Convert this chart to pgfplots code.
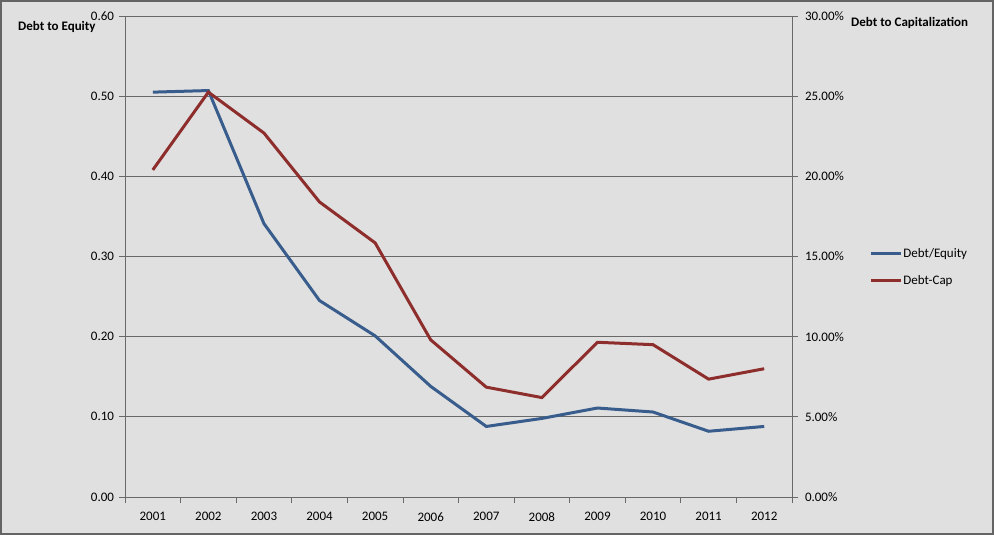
\documentclass[border=0pt]{standalone}
\usepackage{pgfplots}
\pgfplotsset{compat=1.18}
\usepackage{fontspec}
\setmainfont{Carlito}
\definecolor{bg}{RGB}{224,224,224}
\definecolor{framecol}{RGB}{100,100,100}
\definecolor{gridcol}{RGB}{105,105,105}
\definecolor{deblue}{RGB}{56,93,140}
\definecolor{dcred}{RGB}{142,46,44}
\pgfplotstableread{
x de
0 0.505
1 0.507
2 0.341
3 0.245
4 0.201
5 0.138
6 0.088
7 0.098
8 0.111
9 0.106
10 0.082
11 0.088
}\detable
\pgfplotstableread{
x dc
0 20.4
1 25.25
2 22.7
3 18.4
4 15.85
5 9.8
6 6.85
7 6.2
8 9.65
9 9.5
10 7.35
11 8.0
}\dctable
\begin{document}
\begin{tikzpicture}[x=1pt,y=1pt]
\path[use as bounding box] (0,0) rectangle (994,535);
\fill[bg] (0,0) rectangle (994,535);
\draw[framecol, line width=2pt] (1,1) rectangle (993,534);
\begin{axis}[
  at={(125pt,38pt)}, anchor=south west,
  width=667pt, height=481pt, scale only axis,
  xmin=-0.5, xmax=11.5, ymin=0, ymax=0.6,
  axis line style={gridcol, line width=0.8pt},
  xtick={0,...,11},
  xticklabels={2001,2002,2003,2004,2005,2006,2007,2008,2009,2010,2011,2012},
  minor xtick={-0.5,0.5,1.5,2.5,3.5,4.5,5.5,6.5,7.5,8.5,9.5,10.5,11.5},
  xtick pos=bottom, ytick pos=left,
  tick align=outside,
  major tick length=6pt, minor tick length=6pt,
  x tick style={draw=none},
  minor x tick style={draw=gridcol, line width=0.8pt},
  y tick style={gridcol, line width=0.8pt},
  ytick={0,0.1,0.2,0.3,0.4,0.5,0.6},
  ymajorgrids=true,
  major grid style={gridcol, line width=0.8pt},
  yticklabel style={xshift=-1.5pt, /pgf/number format/.cd, fixed, fixed zerofill, precision=2, assume math mode=true},
  tick label style={font=\fontsize{13}{15}\selectfont, text=black},
  xticklabel style={yshift=-6pt},
]
\addplot[deblue, line width=3pt, no marks] table[x=x, y=de] {\detable};
\end{axis}
\begin{axis}[
  at={(125pt,38pt)}, anchor=south west,
  width=667pt, height=481pt, scale only axis,
  xmin=-0.5, xmax=11.5, ymin=0, ymax=30,
  axis x line=none,
  axis y line*=right,
  axis line style={gridcol, line width=0.8pt, -},
  tick align=outside, major tick length=6pt,
  y tick style={gridcol, line width=0.8pt},
  ytick={0,5,10,15,20,25,30},
  yticklabel={\pgfmathprintnumber[fixed, fixed zerofill, precision=2, assume math mode=true]{\tick}\%},
  yticklabel style={font=\fontsize{13}{15}\selectfont, text=black, xshift=3.5pt},
  legend style={draw=none, fill=none, at={(1.112,0.478)}, anchor=west,
    font=\fontsize{13}{15}\selectfont, row sep=15pt,
    nodes={inner sep=0.5pt}},
  legend cell align=left,
  legend image code/.code={\draw[#1, line width=3pt] (0pt,0pt) -- (30pt,0pt);},
]
\addlegendimage{deblue, line width=3pt}
\addplot[dcred, line width=3pt, no marks] table[x=x, y=dc] {\dctable};
\legend{Debt/Equity, Debt-Cap}
\end{axis}
\node[font=\bfseries\fontsize{13}{15}\selectfont, anchor=west, inner sep=0pt] at (18,508) {Debt to Equity};
\node[font=\bfseries\fontsize{13}{15}\selectfont, anchor=west, inner sep=0pt] at (851,512) {Debt to Capitalization};
\end{tikzpicture}
\end{document}
